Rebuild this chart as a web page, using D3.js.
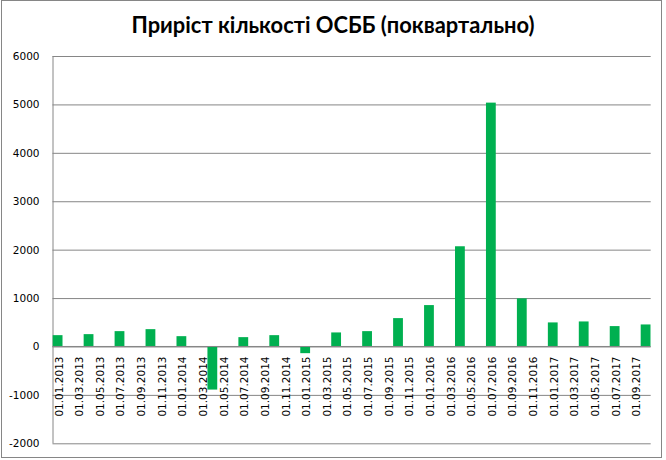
<!DOCTYPE html>
<html><head><meta charset="utf-8">
<script src="https://cdn.jsdelivr.net/npm/d3@7"></script>
<style>body{margin:0;background:#fff}</style>
</head><body><svg id="c" width="666" height="460"></svg>
<script>
const title = "Приріст кількості ОСББ (поквартально)";
const quarters = ["01.01.2013","01.04.2013","01.07.2013","01.10.2013",
  "01.01.2014","01.04.2014","01.07.2014","01.10.2014",
  "01.01.2015","01.04.2015","01.07.2015","01.10.2015",
  "01.01.2016","01.04.2016","01.07.2016","01.10.2016",
  "01.01.2017","01.04.2017","01.07.2017","01.10.2017"];
const growth = [234,255,317,358,213,-890,193,234,-138,290,317,586,855,2070,5037,994,497,517,421,455];
const tickLabels = ["01.01.2013","01.03.2013","01.05.2013","01.07.2013","01.09.2013","01.11.2013",
  "01.01.2014","01.03.2014","01.05.2014","01.07.2014","01.09.2014","01.11.2014",
  "01.01.2015","01.03.2015","01.05.2015","01.07.2015","01.09.2015","01.11.2015",
  "01.01.2016","01.03.2016","01.05.2016","01.07.2016","01.09.2016","01.11.2016",
  "01.01.2017","01.03.2017","01.05.2017","01.07.2017","01.09.2017"];
const yTicks = [-2000,-1000,0,1000,2000,3000,4000,5000,6000];

const svg = d3.select("#c");
const L = 52.5, R = 650.7, T = 56, B = 443.3;
const grid = "#868686";
const barColor = "#00b050";
const font = "DejaVu Sans";

svg.append("rect").attr("x",1.5).attr("y",0.5).attr("width",660).attr("height",457)
  .attr("fill","#fff").attr("stroke",grid).attr("stroke-width",1);

const fmt = d3.timeFormat("%d.%m.%Y");
const months = d3.timeMonth.range(new Date(2013,0,1), new Date(2017,10,1)).map(fmt);
const x = d3.scaleBand().domain(months).range([L, R]).paddingInner(0.05).paddingOuter(0.02);
const y = d3.scaleLinear().domain([-2000, 6000]).range([B, T]);

// y axis with gridlines
const ya = svg.append("g").attr("transform",`translate(${L},0)`)
  .call(d3.axisLeft(y).tickValues(yTicks).tickSize(-(R-L)).tickPadding(13).tickFormat(d => String(d)));
ya.select(".domain").attr("stroke",grid).attr("d",`M0.5,${T}V${B}`);
ya.selectAll(".tick line").attr("stroke",grid);
ya.selectAll(".tick text").attr("font-family",font).attr("font-size","10.5px").attr("fill","#000");

// bars
svg.append("g").selectAll("rect").data(quarters).join("rect")
  .attr("x", d => x(d))
  .attr("width", x.bandwidth())
  .attr("y", (d,i) => Math.min(y(growth[i]), y(0)))
  .attr("height", (d,i) => Math.abs(y(growth[i]) - y(0)))
  .attr("fill", barColor);

// x axis at zero
const xa = svg.append("g").attr("transform",`translate(0,${y(0)})`)
  .call(d3.axisBottom(x).tickValues(tickLabels).tickSize(0));
xa.select(".domain").remove();
svg.append("line").attr("x1",L).attr("x2",R).attr("y1",y(0)).attr("y2",y(0)).attr("stroke",grid);
xa.selectAll(".tick text")
  .attr("font-family",font).attr("font-size","10.5px").attr("fill","#000")
  .attr("transform","rotate(-90)")
  .attr("text-anchor","end")
  .attr("x",-10).attr("y",5).attr("dy",0);

// title
const t = svg.append("text").attr("x",333).attr("y",33.3).attr("text-anchor","middle")
  .attr("font-family","Lato").attr("font-weight","bold").attr("font-size","21px")
  .attr("fill","#000").text(title);
const len = t.node().getComputedTextLength();
t.attr("font-size", (21*403/len).toFixed(2)+"px");
</script></body></html>
